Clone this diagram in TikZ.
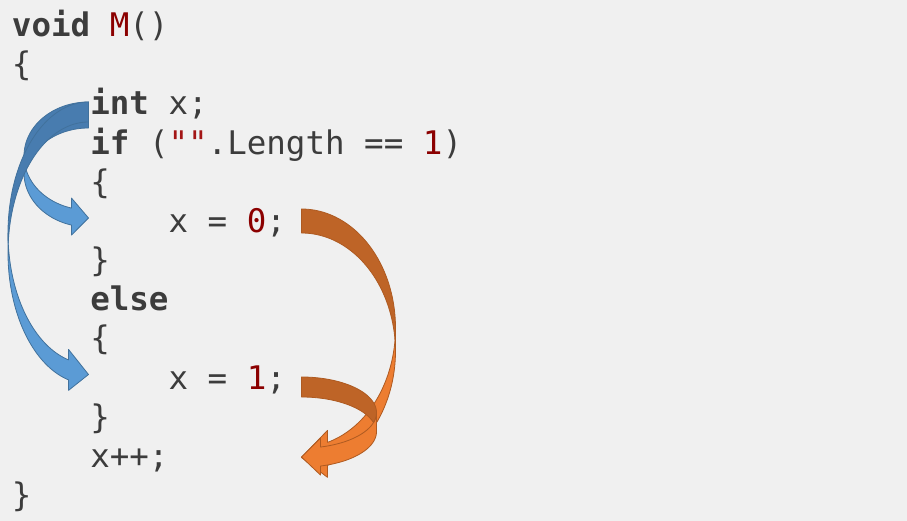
\documentclass[tikz,border=0pt]{standalone}
\usepackage{fontspec}
\setmonofont{DejaVu Sans Mono}
\definecolor{bg}{HTML}{F0F0F0}
\definecolor{codetext}{HTML}{3C3C3C}
\definecolor{numred}{HTML}{8B0000}
\definecolor{strred}{HTML}{A31515}
\definecolor{bluefront}{HTML}{5B9BD5}
\definecolor{blueback}{HTML}{487CAF}
\definecolor{blueline}{HTML}{41719C}
\definecolor{orgfront}{HTML}{ED7D31}
\definecolor{orgback}{HTML}{BE6427}
\definecolor{orgline}{HTML}{AE5A21}
\pgfkeys{/carr/.is family,/carr,
  bx/.store in=\cBx, cy/.store in=\cCy, rx/.store in=\cRx, ry/.store in=\cRy,
  thb/.store in=\cThb, thf/.store in=\cThf, ah/.store in=\cAh, aw/.store in=\cAw,
  tip/.store in=\cTip, m/.store in=\cM, front/.store in=\cFront,
  back/.store in=\cBack, edge/.store in=\cEdge}
\newcommand{\curvedarrow}[1]{%
  \pgfkeys{/carr,#1}%
  \pgfmathsetmacro{\cTa}{acos(-\cAh/\cRx)}%
  \pgfmathsetmacro{\cXa}{\cBx-\cM*\cAh}%
  \pgfmathsetmacro{\cYfive}{\cCy+\cRy*sin(\cTa)}%
  \pgfmathsetmacro{\cYseven}{\cYfive+\cThf}%
  \pgfmathsetmacro{\cYfour}{\cYfive-(\cAw-\cThf)/2}%
  \pgfmathsetmacro{\cYeight}{\cYseven+(\cAw-\cThf)/2}%
  \pgfmathsetmacro{\cDa}{asin(\cThb/(2*\cRy))}%
  \pgfmathsetmacro{\cAst}{180-\cDa}%
  \pgfmathsetmacro{\cAen}{180+\cDa}%
  \fill[\cFront, draw=\cEdge, line width=0.8pt, line join=round]
    plot[domain=180:\cTa, samples=40] ({\cBx+\cM*\cRx*cos(\x)},{\cCy+\cRy*sin(\x)})
    -- (\cXa,\cYfour) -- (\cBx,\cTip) -- (\cXa,\cYeight) -- (\cXa,\cYseven)
    -- plot[domain=\cTa:180, samples=40] ({\cBx+\cM*\cRx*cos(\x)},{\cCy+\cThf+\cRy*sin(\x)})
    -- cycle;
  \fill[\cBack, draw=\cEdge, line width=0.8pt, line join=round]
    plot[domain=\cAst:270, samples=60] ({\cBx+\cM*\cRx*cos(\x)},{\cCy+\cRy*sin(\x)})
    -- plot[domain=270:\cAen, samples=60] ({\cBx+\cM*\cRx*cos(\x)},{\cCy+\cThb+\cRy*sin(\x)})
    -- cycle;
}
\tikzset{
  code/.style={anchor=base west, inner sep=0pt, outer sep=0pt,
    font=\ttfamily\fontsize{32.5}{39}\selectfont, text=codetext}
}
\begin{document}
\begin{tikzpicture}[x=1pt,y=-1pt]
\useasboundingbox (0,0) rectangle (907,521);
\fill[bg] (0,0) rectangle (907,521);
% code lines: col x = 12 + 19.57*col ; baseline = 36.5 + 39.17*(n-1)
\node[code] (l1)  at (12,36.5)      {\textbf{void} \textcolor{numred}{M}()};
\node[code] (l2)  at (12,75.67)     {\{};
\node[code] (l3)  at (90.3,114.84)  {\textbf{int} x;};
\node[code] (l4)  at (90.3,154.01)  {\textbf{if} (\textcolor{strred}{""}.Length == \textcolor{numred}{1})};
\node[code] (l5)  at (90.3,193.18)  {\{};
\node[code] (l6)  at (168.6,232.35) {x = \textcolor{numred}{0};};
\node[code] (l7)  at (90.3,271.52)  {\}};
\node[code] (l8)  at (90.3,310.69)  {\textbf{else}};
\node[code] (l9)  at (90.3,349.86)  {\{};
\node[code] (l10) at (168.6,389.03) {x = \textcolor{numred}{1};};
\node[code] (l11) at (90.3,428.2)   {\}};
\node[code] (l12) at (90.3,467.37)  {x++;};
\node[code] (l13) at (12,506.54)    {\}};
% blue curved arrows (arc on the left)
\curvedarrow{bx=88.5, cy=156, rx=64.5, ry=54, thb=26, thf=17, ah=17, aw=37, tip=218, m=1,
  front=bluefront, back=blueback, edge=blueline}
\curvedarrow{bx=88.5, cy=233, rx=80.5, ry=131, thb=20, thf=20, ah=20, aw=41, tip=374.5, m=1,
  front=bluefront, back=blueback, edge=blueline}
% orange curved arrows (arc on the right)
\curvedarrow{bx=301.5, cy=328, rx=94, ry=119, thb=24, thf=23, ah=26, aw=47, tip=457.5, m=-1,
  front=orgfront, back=orgback, edge=orgline}
\curvedarrow{bx=301.5, cy=412.6, rx=75, ry=35.6, thb=20, thf=19, ah=19, aw=37, tip=457, m=-1,
  front=orgfront, back=orgback, edge=orgline}
\end{tikzpicture}
\end{document}
